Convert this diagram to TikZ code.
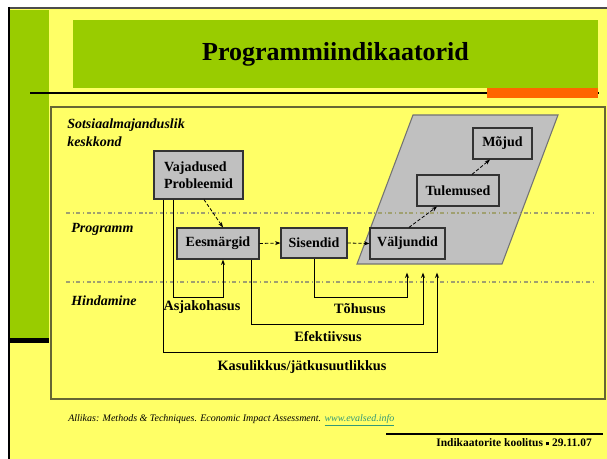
\documentclass[tikz,border=0pt]{standalone}
\usepackage{fontspec}
\setmainfont{Liberation Serif}
\usetikzlibrary{calc,arrows.meta}
\definecolor{bgyellow}{HTML}{FFFF66}
\definecolor{tgreen}{HTML}{99CC00}
\definecolor{orng}{HTML}{FF6600}
\definecolor{boxgray}{HTML}{C0C0C0}
\definecolor{frameol}{HTML}{666633}
\definecolor{dashol}{HTML}{A0A070}
\definecolor{linkc}{HTML}{339977}
\tikzset{
  box/.style={draw=black!80, line width=0.9pt, fill=boxgray, inner sep=0pt,
    font=\fontsize{10.5}{12}\selectfont\bfseries},
  lbl/.style={inner sep=0pt, font=\fontsize{10.7}{12}\selectfont\bfseries},
  zone/.style={inner sep=0pt, anchor=west, align=left,
    font=\fontsize{10.5}{13.5}\selectfont\bfseries\itshape},
  dsh/.style={draw=black, line width=0.6pt, dash pattern=on 2.5pt off 1.5pt,
    -{Stealth[length=4pt,width=3pt]}},
  evl/.style={draw=black, line width=0.7pt, -{Stealth[length=4pt,width=3pt]}},
  sep/.style={draw=dashol, line width=0.8pt, dash pattern=on 3pt off 2pt on 0.8pt off 2pt}
}
\begin{document}
\begin{tikzpicture}[x=0.75pt,y=-0.75pt]
\useasboundingbox (0,0) rectangle (607,459);
\fill[white] (0,0) rectangle (607,459);
\fill[bgyellow] (8,7) rectangle (607,459);
% slide borders
\draw[gray!60!black, line width=1.2pt] (8,8) -- (607,8);
\fill[tgreen] (10,10) rectangle (49,338);
\fill[black] (8,338) rectangle (49,343);
\draw[black, line width=1.6pt] (9,7) -- (9,459);
% title
\fill[tgreen] (73,20) rectangle (598,88);
\node (title) at (335.5,54) [inner sep=0pt, font=\fontsize{19.5}{22}\selectfont\bfseries] {Programmiindikaatorid};
\draw[black, line width=1.2pt] (30,93) -- (599,93);
\fill[orng] (487,88) rectangle (598,98);
% frame
\draw[frameol, line width=0.8pt] (51,107) rectangle (605,399);
% parallelogram
\draw[fill=boxgray, draw=black!55, line width=0.8pt] (413,115) -- (558,115) -- (502,264) -- (357,264) -- cycle;
% separators
\draw[sep] (66,213) -- (593,213);
\draw[sep] (66,282) -- (593,282);
% zone labels
\node[zone] (zsoc) at (67,133) {Sotsiaalmajanduslik\\keskkond};
\node[zone] (zprog) at (71,229) {Programm};
\node[zone] (zhind) at (71,301) {Hindamine};
% boxes
\node[box, minimum width=66.75pt, minimum height=36pt, align=left] (vaj) at (198.5,175) {Vajadused\\[1pt]Probleemid};
\node[box, minimum width=61.5pt, minimum height=23.25pt] (ees) at (218,243.5) {Eesmärgid};
\node[box, minimum width=49.5pt, minimum height=22.5pt] (sis) at (314,243) {Sisendid};
\node[box, minimum width=56.25pt, minimum height=23.25pt] (val) at (407.5,243.5) {Väljundid};
\node[box, minimum width=61.5pt, minimum height=23.25pt] (tul) at (458,190.5) {Tulemused};
\node[box, minimum width=44.25pt, minimum height=23.25pt] (moj) at (502.5,143.5) {Mõjud};
% dashed flow arrows
\draw[dsh] ($(vaj.south)+(5.5,0)$) -- ($(ees.north)+(5,0)$);
\draw[dsh] (ees.east) -- (sis.west);
\draw[dsh] (sis.east) -- (val.west);
\draw[dsh] ($(val.north)+(1.5,0)$) -- ($(tul.south)+(-21,0)$);
\draw[dsh] ($(tul.north)+(14,0)$) -- ($(moj.south)+(-12.5,0)$);
% evaluation connectors
\draw[evl] ($(vaj.south)+(-25.5,0)$) |- ($(ees.south)+(5,38)$) -- ($(ees.south)+(5,0)$);
\draw[evl] (sis.south) |- ($(val.south)+(-0.5,38)$) -- ($(val.south)+(-0.5,13)$);
\draw[evl] ($(ees.south)+(33,0)$) |- ($(val.south)+(15.5,65)$) -- ($(val.south)+(15.5,13)$);
\draw[evl] ($(vaj.south)+(-35.5,0)$) |- ($(val.south)+(29.5,93)$) -- ($(val.south)+(29.5,13)$);
% evaluation labels
\node[lbl] (asj) at (202,307) {Asjakohasus};
\node[lbl] (toh) at (360,309) {Tõhusus};
\node[lbl] (efe) at (328,337) {Efektiivsus};
\node[lbl] (kas) at (302,367) {Kasulikkus/jätkusuutlikkus};
% source
\node[inner sep=0pt, anchor=west, font=\fontsize{7.5}{9}\selectfont\itshape] (src) at (68,420)
  {Allikas: Methods \& Techniques. Economic Impact Assessment. {\color{linkc}\underline{www.evalsed.info}}};
% footer
\draw[black, line width=1.6pt] (386,434) -- (603,434);
\node[inner sep=0pt, anchor=east, font=\fontsize{8.6}{10}\selectfont\bfseries] (foot) at (592,443)
  {Indikaatorite koolitus \raisebox{0.3ex}{\rule{0.3em}{0.3em}} 29.11.07};
\end{tikzpicture}
\end{document}
